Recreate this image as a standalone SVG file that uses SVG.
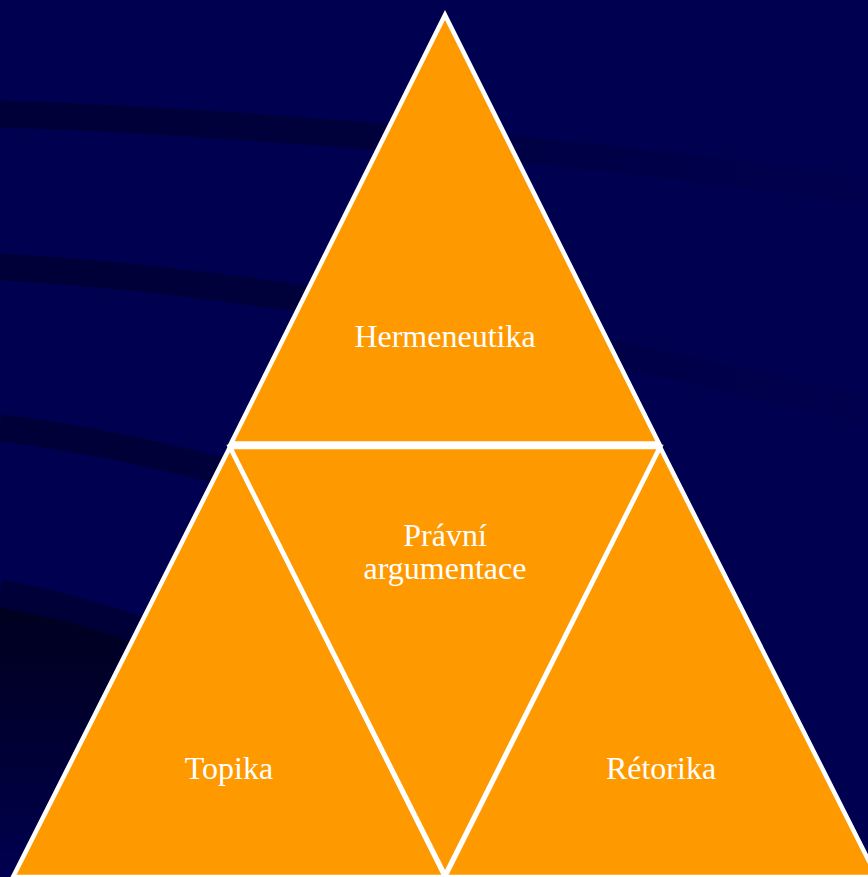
<svg xmlns="http://www.w3.org/2000/svg" width="868" height="877" viewBox="0 0 868 877">
  <defs>
    <linearGradient id="bandFade" gradientUnits="userSpaceOnUse" x1="0" y1="0" x2="868" y2="0">
      <stop offset="0" stop-color="#000038" stop-opacity="1"/>
      <stop offset="0.45" stop-color="#000038" stop-opacity="0.85"/>
      <stop offset="0.65" stop-color="#000038" stop-opacity="0.4"/>
      <stop offset="1" stop-color="#000038" stop-opacity="0.1"/>
    </linearGradient>
    <linearGradient id="cornerDark" gradientUnits="userSpaceOnUse" x1="0" y1="600" x2="0" y2="877">
      <stop offset="0" stop-color="#00001e"/>
      <stop offset="0.45" stop-color="#000030"/>
      <stop offset="1" stop-color="#000050"/>
    </linearGradient>
    <style>
      .band { fill: none; stroke: url(#bandFade); stroke-width: 27; }
      .tri { fill: #FF9900; stroke: #FFFFFF; stroke-width: 4.5; stroke-linejoin: miter; }
      .lbl { fill: #FFFFFF; font-family: "Liberation Serif", "Times New Roman", serif; font-size: 32px; text-anchor: middle; }
    </style>
  </defs>

  <!-- background -->
  <rect x="0" y="0" width="868" height="877" fill="#000050"/>
  <path d="M0,607 C60,618 120,636 215,668 L215,877 L0,877 Z" fill="url(#cornerDark)"/>
  <path class="band" d="M0,114 C200,120 600,150 868,192"/>
  <path class="band" d="M0,267 C200,278 500,320 868,412"/>
  <path class="band" d="M0,428 C100,440 200,462 320,500"/>
  <path class="band" d="M0,593 C60,604 120,622 215,655"/>

  <g id="connectors"></g>

  <g id="node-hermeneutika">
    <polygon class="tri" points="445,15 231,443.5 659,443.5"/>
    <text class="lbl" x="445" y="347">Hermeneutika</text>
  </g>
  <g id="node-topika">
    <polygon class="tri" points="230,447 13,877 445,877"/>
    <text class="lbl" x="229" y="779">Topika</text>
  </g>
  <g id="node-retorika">
    <polygon class="tri" points="660,447 445,877 877,877"/>
    <text class="lbl" x="661" y="779">Rétorika</text>
  </g>
  <g id="node-pravni-argumentace">
    <polygon class="tri" points="230,447 660,447 445,875"/>
    <text class="lbl" x="445" y="546">Právní</text>
    <text class="lbl" x="445" y="579">argumentace</text>
  </g>
</svg>
